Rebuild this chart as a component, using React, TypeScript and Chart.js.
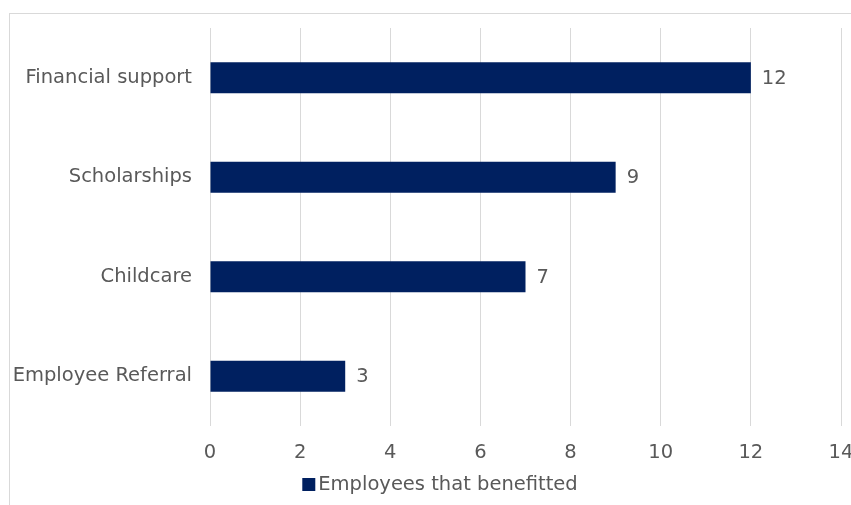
import React, { useEffect, useRef } from "react";
import { Chart, registerables } from "chart.js";

Chart.register(...registerables);

const categories = ["Financial support", "Scholarships", "Childcare", "Employee Referral"];
const seriesName = "Employees that benefitted";
const values = [12, 9, 7, 3];
const xMin = 0;
const xMax = 14;
const xStep = 2;

const TEXT = "#595959";
const GRID = "#d9d9d9";
const BAR = "#002060";
const FONT = "'DejaVu Sans', Verdana, sans-serif";
const FS = 19.5;

const valueLabels = {
  id: "valueLabels",
  afterDatasetsDraw(chart: any) {
    const ctx = chart.ctx;
    ctx.save();
    ctx.font = `${FS}px ${FONT}`;
    ctx.fillStyle = TEXT;
    ctx.textBaseline = "middle";
    ctx.textAlign = "left";
    chart.data.datasets.forEach((ds: any, i: number) => {
      const meta = chart.getDatasetMeta(i);
      meta.data.forEach((bar: any, j: number) => {
        ctx.fillText(String(ds.data[j]), bar.x + 11, bar.y + 1);
      });
    });
    ctx.restore();
  },
};

const customLegend = {
  id: "customLegend",
  afterDraw(chart: any) {
    const ctx = chart.ctx;
    ctx.save();
    ctx.font = `${FS}px ${FONT}`;
    chart.data.datasets.forEach((ds: any) => {
      const text = ds.label;
      const tw = ctx.measureText(text).width;
      const box = 13;
      const gap = 3;
      const itemW = box + gap + tw;
      const x0 = chart.width / 2 - itemW / 2;
      const cy = 470.5;
      ctx.fillStyle = ds.backgroundColor;
      ctx.fillRect(x0, cy - box / 2, box, box);
      ctx.fillStyle = TEXT;
      ctx.textBaseline = "middle";
      ctx.textAlign = "left";
      ctx.fillText(text, x0 + box + gap, cy);
    });
    ctx.restore();
  },
};

export default function App() {
  const ref = useRef<HTMLCanvasElement | null>(null);
  useEffect(() => {
    document.documentElement.style.overflow = "hidden";
    const chart = new Chart(ref.current as HTMLCanvasElement, {
      type: "bar",
      data: {
        labels: categories,
        datasets: [
          {
            label: seriesName,
            data: values,
            backgroundColor: BAR,
            borderWidth: 0,
            categoryPercentage: 1,
            barPercentage: 0.31,
          },
        ],
      },
      options: {
        indexAxis: "y",
        responsive: false,
        animation: false,
        layout: { padding: { top: 14, right: 29, left: 0, bottom: 40 } },
        scales: {
          x: {
            min: xMin,
            max: xMax,
            ticks: {
              stepSize: xStep,
              color: TEXT,
              font: { family: FONT, size: FS },
              padding: 15,
            },
            grid: { color: GRID, drawTicks: false, lineWidth: 1 },
            border: { display: false },
            afterFit(scale: any) {
              scale.height = 38;
              scale.paddingLeft = 0;
              scale.paddingRight = 0;
            },
          },
          y: {
            ticks: {
              color: TEXT,
              font: { family: FONT, size: FS },
              padding: 18,
            },
            grid: { display: false, drawTicks: false },
            border: { display: false },
            afterFit(scale: any) {
              scale.width = 200;
              scale.paddingTop = 0;
              scale.paddingBottom = 0;
            },
          },
        },
        plugins: {
          legend: { display: false },
          tooltip: { enabled: false },
        },
      },
      plugins: [valueLabels, customLegend],
    });
    return () => chart.destroy();
  }, []);
  return (
    <div
      style={{
        position: "fixed",
        left: 9,
        top: 13,
        width: 862,
        height: 500,
        border: `1px solid ${GRID}`,
        background: "#fff",
      }}
    >
      <canvas ref={ref} width={860} height={490} style={{ display: "block" }} />
    </div>
  );
}
